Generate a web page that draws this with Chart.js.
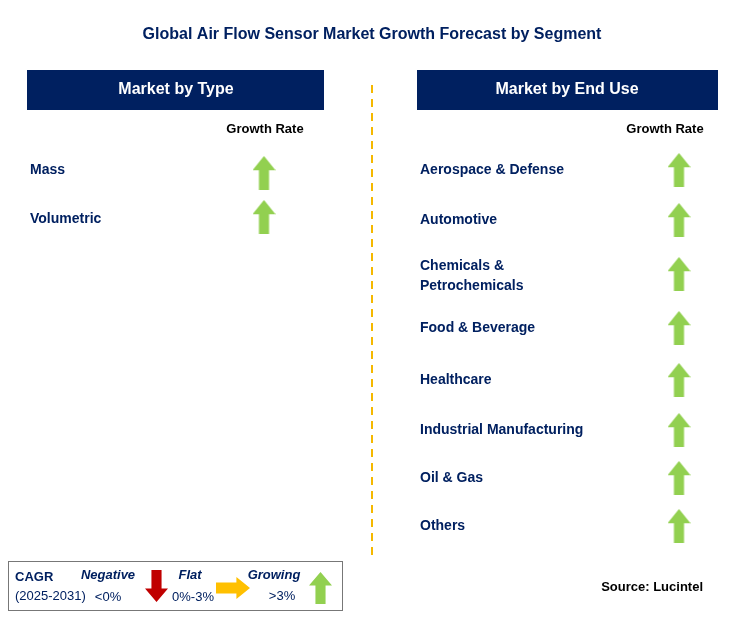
<!DOCTYPE html>
<html><head><meta charset="utf-8">
<script src="https://cdn.jsdelivr.net/npm/chart.js@4"></script>
<style>html,body{margin:0;padding:0;background:#fff}canvas{display:block}</style>
</head><body><canvas id="c" width="743" height="621"></canvas>
<script>
const title = "Global Air Flow Sensor Market Growth Forecast by Segment";
const typeCategories = ["Mass", "Volumetric"];
const typeGrowth = ["Growing", "Growing"];
const endUseCategories = ["Aerospace & Defense", "Automotive", "Chemicals &\nPetrochemicals", "Food & Beverage", "Healthcare", "Industrial Manufacturing", "Oil & Gas", "Others"];
const endUseGrowth = ["Growing","Growing","Growing","Growing","Growing","Growing","Growing","Growing"];
const source = "Source: Lucintel";

// layout
const leftRows = [173, 217];
const rightRows = [170, 220, 274, 328, 380, 430, 478, 526];
const leftArrowX = 264, rightArrowX = 679;
const navy = "#002060", green = "#92d050";

function arrowImg(dir, color, w, h) {
  const c = document.createElement('canvas'); c.width = w; c.height = h;
  const g = c.getContext('2d'); g.fillStyle = color; g.beginPath();
  if (dir === 'up') {
    g.moveTo(w/2,0); g.lineTo(w,h*0.42); g.lineTo(w*0.72,h*0.42); g.lineTo(w*0.72,h); g.lineTo(w*0.28,h); g.lineTo(w*0.28,h*0.42); g.lineTo(0,h*0.42);
  } else if (dir === 'down') {
    g.moveTo(w/2,h); g.lineTo(w,h*0.58); g.lineTo(w*0.72,h*0.58); g.lineTo(w*0.72,0); g.lineTo(w*0.28,0); g.lineTo(w*0.28,h*0.58); g.lineTo(0,h*0.58);
  } else {
    g.moveTo(w,h/2); g.lineTo(w*0.6,0); g.lineTo(w*0.6,h*0.25); g.lineTo(0,h*0.25); g.lineTo(0,h*0.75); g.lineTo(w*0.6,h*0.75); g.lineTo(w*0.6,h);
  }
  g.closePath(); g.fill(); return c;
}
const upArrow = arrowImg('up', green, 23, 34);
const styleFor = v => v === 'Growing' ? upArrow : v === 'Flat' ? arrowImg('right','#ffc000',34,22) : arrowImg('down','#c00000',23,34);

const textPlugin = {
  id: 'infotext',
  afterDatasetsDraw(chart) {
    const g = chart.ctx;
    g.save();
    g.textBaseline = 'middle';
    const F = (s, st) => `${st||'bold'} ${s}px "Liberation Sans", Arial, sans-serif`;
    g.fillStyle = navy; g.font = F(16); g.textAlign = 'center';
    g.fillText(title, 372, 35);
    g.fillRect(27, 70, 297, 40); g.fillRect(417, 70, 301, 40);
    g.fillStyle = '#fff'; g.font = F(16);
    g.fillText("Market by Type", 176, 90); g.fillText("Market by End Use", 567, 90);
    g.fillStyle = '#000'; g.font = F(13);
    g.fillText("Growth Rate", 265, 129); g.fillText("Growth Rate", 665, 129);
    g.strokeStyle = '#f5b800'; g.lineWidth = 2; g.setLineDash([8,6]);
    g.beginPath(); g.moveTo(372, 85); g.lineTo(372, 555); g.stroke(); g.setLineDash([]);
    g.fillStyle = navy; g.font = F(14); g.textAlign = 'left';
    ["Mass","Volumetric"].length;
    typeCategories.forEach((t,i) => g.fillText(t, 30, [170,219][i]));
    endUseCategories.forEach((t,i) => {
      const lines = t.split('\n');
      lines.forEach((l,j) => g.fillText(l, 420, rightRows[i] + (j - (lines.length-1)/2) * 20 + (lines.length>1?2:0)));
    });
    g.fillStyle = '#000'; g.font = F(13); g.textAlign = 'right';
    g.fillText(source, 703, 587);
    g.textAlign = 'left';
    // legend box
    g.strokeStyle = '#777'; g.lineWidth = 1; g.strokeRect(8.5, 561.5, 334, 49);
    g.fillStyle = navy; g.font = F(13); g.fillText("CAGR", 15, 577);
    g.font = F(13, 'normal'); g.fillText("(2025-2031)", 15, 596);
    g.font = F(13, 'italic bold'); g.textAlign = 'center';
    g.fillText("Negative", 108, 575); g.fillText("Flat", 190, 575); g.fillText("Growing", 274, 575);
    g.font = F(13, 'normal');
    g.fillText("<0%", 108, 597); g.fillText("0%-3%", 193, 597); g.fillText(">3%", 282, 596);
    g.drawImage(arrowImg('down','#c00000',23,32), 145, 570);
    g.drawImage(arrowImg('right','#ffc000',34,22), 216, 577);
    g.drawImage(arrowImg('up', green, 23, 32), 309, 572);
    g.restore();
  }
};

new Chart(document.getElementById('c'), {
  type: 'scatter',
  data: { datasets: [
    { label: 'Type', data: typeCategories.map((c,i) => ({x: leftArrowX, y: leftRows[i]})), pointStyle: typeGrowth.map(styleFor), pointRadius: 12 },
    { label: 'End Use', data: endUseCategories.map((c,i) => ({x: rightArrowX, y: rightRows[i]})), pointStyle: endUseGrowth.map(styleFor), pointRadius: 12 }
  ]},
  options: {
    responsive: false, animation: false, events: [],
    layout: { padding: 0, autoPadding: false },
    plugins: { legend: {display:false}, tooltip: {enabled:false} },
    scales: {
      x: { type:'linear', min:0, max:743, display:false },
      y: { type:'linear', min:0, max:621, reverse:true, display:false }
    }
  },
  plugins: [textPlugin]
});
</script></body></html>
